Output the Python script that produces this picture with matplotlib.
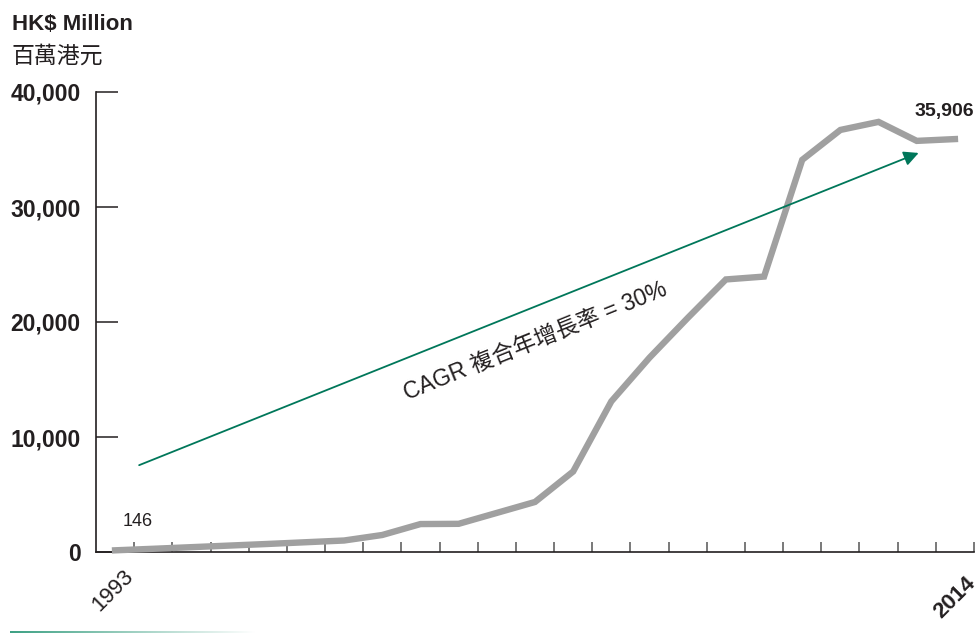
import numpy as np
import matplotlib
matplotlib.use("Agg")
import matplotlib.pyplot as plt
from matplotlib.colors import LinearSegmentedColormap

# HK$ million, one value per year shown on the line
values = [146, 280, 420, 560, 700, 850, 1000, 1480, 2430, 2450, 3400, 4350,
          7000, 13100, 16900, 20350, 23700, 23950, 34100, 36700, 37400, 35750, 35906]
first_year, last_year = "1993", "2014"
yticks = [0, 10000, 20000, 30000, 40000]
ytick_labels = ["0", "10,000", "20,000", "30,000", "40,000"]
cagr_text = "CAGR 複合年增長率 = 30%"

DARK = "#231f20"
GREY = "#a0a0a0"
GREEN = "#00775a"
LATIN = ["Liberation Sans", "Noto Sans CJK TC"]

fig = plt.figure(figsize=(9.78, 6.33), dpi=100)
ax = fig.add_axes([96 / 978, (633 - 552) / 633, (974 - 96) / 978, 460 / 633])

x = np.arange(len(values))
ax.plot(x, values, color=GREY, lw=4.6, solid_joinstyle="miter", clip_on=False, zorder=3)

ax.set_xlim(-0.5, len(values) - 0.5)
ax.set_ylim(0, 40000)
for s in ("top", "right"):
    ax.spines[s].set_visible(False)
for s in ("left", "bottom"):
    ax.spines[s].set_color(DARK)
    ax.spines[s].set_linewidth(1.2)

ax.set_yticks(yticks)
ax.set_yticklabels(ytick_labels, fontfamily=LATIN, fontweight="bold", fontsize=16.5, color=DARK)
ax.tick_params(axis="y", direction="in", length=15.5, width=1.1, color=DARK, pad=11)

ax.set_xticks(np.arange(0.5, len(values)))
ax.set_xticklabels([])
ax.tick_params(axis="x", direction="in", length=7.2, width=1.1, color="#555555")

# year labels at the ends
ax.text(0.2, -0.03, first_year, transform=ax.get_xaxis_transform(), rotation=45,
        rotation_mode="anchor", ha="right", va="top", fontfamily=LATIN, fontsize=16, color=DARK)
ax.text(len(values) - 0.75, -0.045, last_year, transform=ax.get_xaxis_transform(), rotation=45,
        rotation_mode="anchor", ha="right", va="top", fontfamily=LATIN, fontsize=16,
        fontweight="bold", color=DARK)

# value labels
ax.text(0.2, values[0] + 2100, f"{values[0]:,}", fontfamily=LATIN, fontsize=13, color=DARK)
ax.text(len(values) - 0.5, values[-1] + 1700, f"{values[-1]:,}", ha="right", va="bottom",
        fontfamily=LATIN, fontsize=14, fontweight="bold", color=DARK)

# CAGR arrow and label
ax.annotate("", xy=(21.05, 34700), xytext=(0.63, 7550),
            arrowprops=dict(arrowstyle="-|>", color=GREEN, lw=1.3, mutation_scale=22,
                            shrinkA=0, shrinkB=0))
ax.text(11.0, 18300, cagr_text, rotation=22, ha="center", va="center",
        fontfamily=LATIN, fontsize=16.5, color=DARK)

# unit header
fig.text(12 / 978, 1 - 24 / 633, "HK$ Million", fontfamily=LATIN, fontweight="bold",
         fontsize=16, color=DARK, va="center")
fig.text(12 / 978, 1 - 56 / 633, "百萬港元", fontfamily=["Noto Sans CJK TC", "DejaVu Sans"],
         fontsize=16.5, color=DARK, va="center")

# faded green rule at the bottom
gax = fig.add_axes([10 / 978, 0, 245 / 978, 2.5 / 633])
grad = np.linspace(0, 1, 256).reshape(1, -1)
cmap = LinearSegmentedColormap.from_list("fade", ["#3ea184", "#ffffff"])
gax.imshow(grad, aspect="auto", cmap=cmap)
gax.axis("off")

fig.savefig("out.png", dpi=100)
